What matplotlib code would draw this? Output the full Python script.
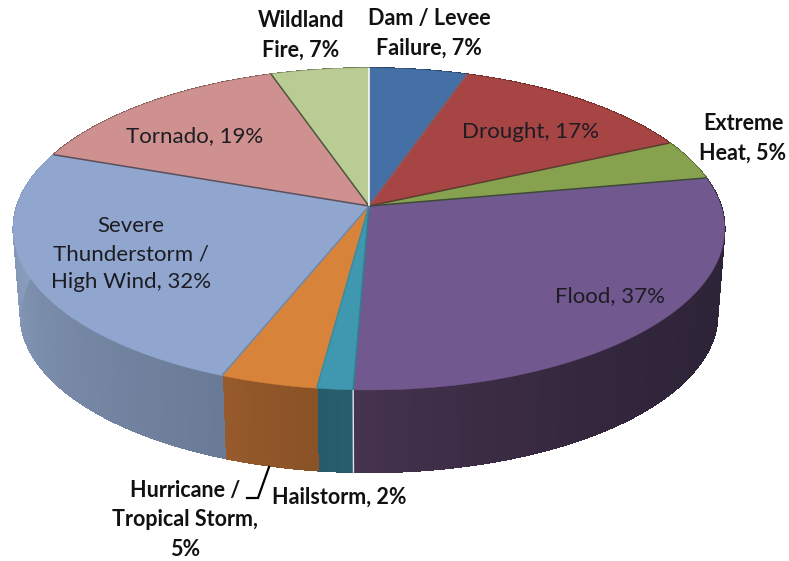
import numpy as np
import matplotlib
matplotlib.use("Agg")
import matplotlib.pyplot as plt
from matplotlib.collections import PolyCollection
from matplotlib.colors import to_rgb

# values, labels carry the rounded percentages
hazards = ["Dam / Levee Failure", "Drought", "Extreme Heat", "Flood", "Hailstorm",
           "Hurricane / Tropical Storm", "Severe Thunderstorm / High Wind", "Tornado", "Wildland Fire"]
values = [6.73, 16.9, 5.3, 37.4, 1.86, 5.06, 32.3, 18.8, 6.7]
label_texts = ["Dam / Levee\nFailure, 7%", "Drought, 17%", "Extreme\nHeat, 5%", "Flood, 37%", "Hailstorm, 2%",
               "Hurricane /\nTropical Storm,\n5%", "Severe\nThunderstorm /\nHigh Wind, 32%", "Tornado, 19%",
               "Wildland\nFire, 7%"]

# styles
top_colors = ["#4470A5", "#A64543", "#86A24E", "#71588F", "#3F98AF", "#D8833A", "#90A6CE", "#CF9190", "#B9CC94"]
edge_colors = ["#8C5A60", "#5E3A30", "#3F4A3A", "#2F8090", "#3A8A9E", "#6F87A8", "#5A4F5C", "#4F5640", "#FFFFFF"]
wall_start = ["#2A4468", "#6A2B2A", "#55662F", "#2D2337", "#285E6B", "#8A5226", "#6A7B97", "#7F5B5A", "#75805C"]
wall_end = ["#2A4468", "#6A2B2A", "#55662F", "#46334F", "#265C69", "#965A2B", "#8FA3C4", "#7F5B5A", "#75805C"]
wall_power = [1, 1, 1, 3, 1, 1, 1, 1, 1]

# label placement in pixels: x, y, bold outside the pie
label_pos = [(429, 33), (531, 132), (743, 138), (610, 296), (339, 497), (185, 520), (131, 254), (195, 136), (301, 35)]
label_bold = [True, False, True, False, True, True, False, False, True]

CX = 369
APEX_Y = 206
K = 1 / 7


def project(theta, r=1.0, a=157.7, b=352.0, y0=APEX_Y):
    # clockwise from 12 o'clock, squashed disc with a little perspective
    u = r * np.sin(theta)
    v = -r * np.cos(theta)
    w = 1 - K * v
    return CX + b * u / w, y0 + a * v / w


def project_base(theta):
    return project(theta, a=157.7 * 0.98, b=352.0 * 0.98, y0=292)


def blend(c1, c2, t):
    c1, c2 = np.array(to_rgb(c1)), np.array(to_rgb(c2))
    return tuple(c1 + (c2 - c1) * t)


fig = plt.figure(figsize=(7.89, 5.61), dpi=100)
ax = fig.add_axes([0, 0, 1, 1])
ax.set_xlim(0, 789)
ax.set_ylim(561, 0)
ax.axis("off")

ends = np.cumsum(values) / np.sum(values) * 2 * np.pi
starts = np.concatenate([[0], ends[:-1]])

# side wall, front part only, the top face hides the rest
for i in range(len(values)):
    steps = np.linspace(starts[i], ends[i], max(2, int(np.degrees(ends[i] - starts[i])) + 1))
    quads = []
    colors = []
    for j in range(len(steps) - 1):
        t0, t1 = steps[j], steps[j + 1]
        xa, ya = project(np.array([t0, t1]))
        xb, yb = project_base(np.array([t1, t0]))
        quads.append(np.column_stack([np.r_[xa, xb], np.r_[ya, yb]]))
        frac = (j / max(1, len(steps) - 2)) ** wall_power[i]
        colors.append(blend(wall_start[i], wall_end[i], frac))
    ax.add_collection(PolyCollection(quads, facecolors=colors, edgecolors=colors, linewidths=0.6,
                                     antialiaseds=False, zorder=2))

# thin light seam between hailstorm and flood walls
seam = ends[3]
xa, ya = project(seam)
xb, yb = project_base(seam)
ax.plot([xa, xb], [ya, yb], color="#DDE3E6", lw=1.0, zorder=3)

# top face
for i in range(len(values)):
    th = np.linspace(starts[i], ends[i], 120)
    x, y = project(th)
    ax.fill(np.r_[CX, x], np.r_[APEX_Y, y], facecolor=top_colors[i], edgecolor=top_colors[i], lw=0.3, zorder=4)

for i in range(len(values)):
    x, y = project(ends[i])
    ax.plot([CX, x], [APEX_Y, y], color=edge_colors[i], lw=1.1, zorder=5, solid_capstyle="butt")

# leader line for the hurricane label
leader_x = [269, 258, 247]
leader_y = [467, 498, 498]
ax.plot(leader_x, leader_y, color="black", lw=1.6, zorder=6, solid_joinstyle="miter")

for text, (x, y), bold in zip(label_texts, label_pos, label_bold):
    ax.text(x, y, text, ha="center", va="center", family=["Lato", "DejaVu Sans"],
            fontsize=15.5 if bold else 16,
            fontweight="bold" if bold else "normal", color="#111111" if bold else "#1c1c22",
            linespacing=1.5, zorder=7)

fig.savefig("out.png", dpi=100)
